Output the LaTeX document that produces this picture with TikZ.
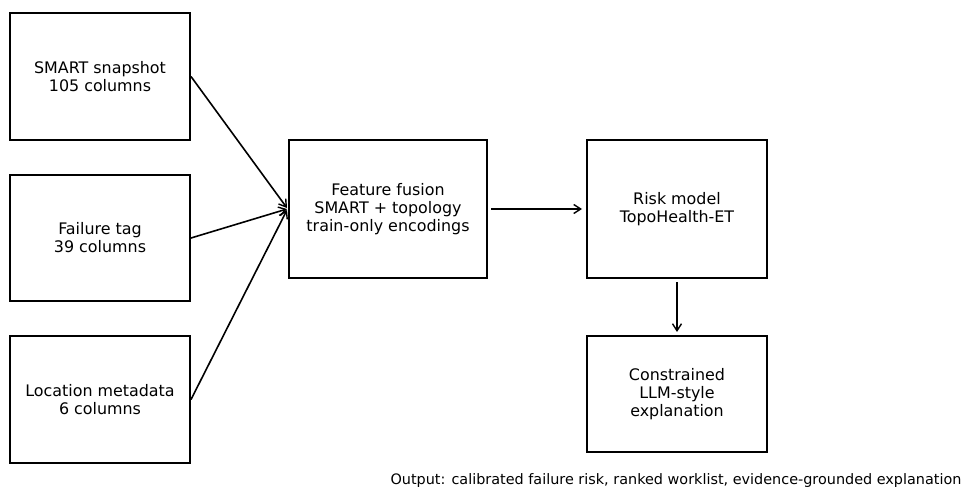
\documentclass[tikz,border=0pt]{standalone}
\usepackage{fontspec}
\setmainfont{DejaVu Sans}
\usetikzlibrary{arrows.meta}
\begin{document}
\begin{tikzpicture}[x=1pt,y=-1pt,
  box/.style={draw=black,line width=2pt,inner sep=0pt,align=center,
    font=\fontsize{15.9}{18}\selectfont},
  arr/.style={-{Straight Barb[length=7pt,width=9pt,line width=1.4pt]},line width=1.6pt}]
\useasboundingbox (0,0) rectangle (961,487);
\node[box,minimum width=180pt,minimum height=127pt] (smart) at (100,76.5) {SMART snapshot\\105 columns};
\node[box,minimum width=180pt,minimum height=126pt] (fail) at (100,238) {Failure tag\\39 columns};
\node[box,minimum width=180pt,minimum height=127pt] (loc) at (100,399.5) {Location metadata\\6 columns};
\node[box,minimum width=198pt,minimum height=138pt] (fuse) at (388,209) {Feature fusion\\SMART + topology\\train-only encodings};
\node[box,minimum width=180pt,minimum height=138pt] (risk) at (677,209) {Risk model\\TopoHealth-ET};
\node[box,minimum width=180pt,minimum height=116pt] (llm) at (677,394) {Constrained\\LLM-style\\explanation};
\node[font=\fontsize{14.4}{16}\selectfont,inner sep=0pt] (out) at (676,481) {Output: calibrated failure risk, ranked worklist, evidence-grounded explanation};
\draw[arr] (smart.east) -- ([xshift=-1pt,yshift=1pt]fuse.west);
\draw[arr] (fail.east) -- ([xshift=-1pt]fuse.west);
\draw[arr] (loc.east) -- ([xshift=-1pt,yshift=-1pt]fuse.west);
\draw[arr] ([xshift=3pt]fuse.east) -- ([xshift=-4pt]risk.west);
\draw[arr] ([yshift=-3pt]risk.south) -- ([yshift=3pt]llm.north);
\end{tikzpicture}
\end{document}
